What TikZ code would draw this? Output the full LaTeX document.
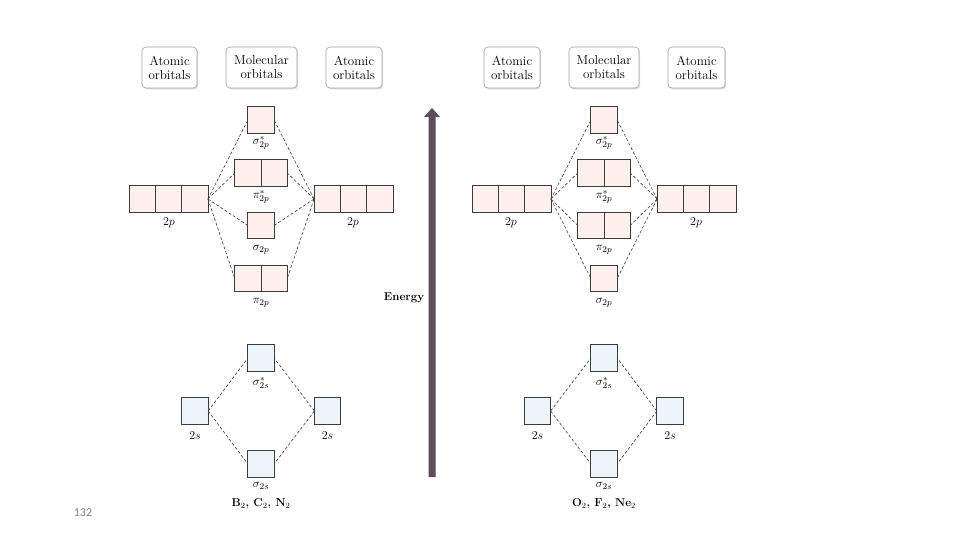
\documentclass[tikz,border=0pt]{standalone}
\usepackage{fontspec}
\newfontfamily\pagefont{Carlito}
\usetikzlibrary{shadows}
\definecolor{pinkfill}{RGB}{253,240,237}
\definecolor{bluefill}{RGB}{236,245,252}
\definecolor{boxline}{RGB}{60,60,60}
\definecolor{hdrline}{RGB}{160,160,160}
\definecolor{arrowcol}{RGB}{95,76,90}
\definecolor{dashcol}{RGB}{60,60,60}
\tikzset{
  cell/.style={draw=boxline, line width=0.8pt, minimum width=26.3pt, minimum height=26.3pt, inner sep=0pt, outer sep=0pt},
  pcell/.style={cell, fill=pinkfill},
  bcell/.style={cell, fill=bluefill},
  hdr/.style={draw=hdrline, line width=0.6pt, rounded corners=4pt, fill=white, minimum height=41pt, align=center, inner sep=0pt,
    font=\fontsize{13}{14}\selectfont, drop shadow={shadow xshift=1.2pt, shadow yshift=-1.5pt, opacity=0.25}},
  lbl/.style={font=\fontsize{13}{14}\selectfont, inner sep=0pt},
  ttl/.style={font=\fontsize{11.5}{12}\selectfont\bfseries, inner sep=0pt},
  mo/.style={dashcol, line width=0.6pt, dash pattern=on 3pt off 2pt},
}
\begin{document}
\begin{tikzpicture}[x=1pt,y=-1pt]
\useasboundingbox[fill=white] (0,0) rectangle (960,540);

% ---------- Left panel: B2, C2, N2 ----------
\node[hdr, minimum width=55pt] (hL1) at (169.5,67.5) {Atomic\\orbitals};
\node[hdr, minimum width=71pt] (hL2) at (261.5,67.5) {Molecular\\orbitals};
\node[hdr, minimum width=56pt] (hL3) at (354,67.5) {Atomic\\orbitals};

% left 2p
\node[pcell] (La1) at (142.2,199) {};
\node[pcell] (La2) at (168.5,199) {};
\node[pcell] (La3) at (194.8,199) {};
% right 2p
\node[pcell] (Lb1) at (327.2,199) {};
\node[pcell] (Lb2) at (353.5,199) {};
\node[pcell] (Lb3) at (379.8,199) {};
% MOs
\node[pcell] (LsS) at (261,120) {};
\node[pcell] (LpSa) at (247.9,173) {};
\node[pcell] (LpSb) at (274.1,173) {};
\node[pcell] (Ls) at (261,225.5) {};
\node[pcell] (Lpa) at (247.9,278.5) {};
\node[pcell] (Lpb) at (274.1,278.5) {};
% 2s
\node[bcell] (L2sA) at (195,411) {};
\node[bcell] (L2sB) at (327.5,411) {};
\node[bcell] (LsSs) at (261,358) {};
\node[bcell] (Lss) at (261,464) {};

% labels
\node[lbl] (lLsS) at (261,143) {$\sigma^{*}_{2p}$};
\node[lbl] (lLpS) at (261,197) {$\pi^{*}_{2p}$};
\node[lbl] (lLs) at (261,250) {$\sigma_{2p}$};
\node[lbl] (lLp) at (261,303) {$\pi_{2p}$};
\node[lbl] (lLa) at (169,223) {$2p$};
\node[lbl] (lLb) at (353,223) {$2p$};
\node[lbl] (lLsSs) at (261,383) {$\sigma^{*}_{2s}$};
\node[lbl] (lL2sA) at (195,436) {$2s$};
\node[lbl] (lL2sB) at (327.5,436) {$2s$};
\node[lbl] (lLss) at (261,486) {$\sigma_{2s}$};
\node[ttl] (tL) at (261,504) {B$_2$, C$_2$, N$_2$};

% connectors
\foreach \m in {LsS,LpSa,Ls,Lpa} \draw[mo] (La3.east) -- (\m.west);
\foreach \m in {LsS,LpSb,Ls,Lpb} \draw[mo] (Lb1.west) -- (\m.east);
\draw[mo] (L2sA.east) -- (LsSs.west);
\draw[mo] (L2sA.east) -- (Lss.west);
\draw[mo] (L2sB.west) -- (LsSs.east);
\draw[mo] (L2sB.west) -- (Lss.east);

% ---------- Energy arrow ----------
\fill[arrowcol] (428.5,477) -- (435.5,477) -- (435.5,117) -- (440,117) -- (432,108) -- (424,117) -- (428.5,117) -- cycle;
\node[ttl] (energy) at (404,298) {Energy};

% ---------- Right panel: O2, F2, Ne2 ----------
\node[hdr, minimum width=56pt] (hR1) at (512,67.5) {Atomic\\orbitals};
\node[hdr, minimum width=70pt] (hR2) at (604,67.5) {Molecular\\orbitals};
\node[hdr, minimum width=57pt] (hR3) at (696.5,67.5) {Atomic\\orbitals};

\node[pcell] (Ra1) at (485.2,199) {};
\node[pcell] (Ra2) at (511.5,199) {};
\node[pcell] (Ra3) at (537.8,199) {};
\node[pcell] (Rb1) at (670.2,199) {};
\node[pcell] (Rb2) at (696.5,199) {};
\node[pcell] (Rb3) at (722.8,199) {};
\node[pcell] (RsS) at (604,120) {};
\node[pcell] (RpSa) at (590.9,173) {};
\node[pcell] (RpSb) at (617.1,173) {};
\node[pcell] (Rpa) at (590.9,225.5) {};
\node[pcell] (Rpb) at (617.1,225.5) {};
\node[pcell] (Rs) at (604,278.5) {};
\node[bcell] (R2sA) at (537.5,411) {};
\node[bcell] (R2sB) at (670,411) {};
\node[bcell] (RsSs) at (604,358) {};
\node[bcell] (Rss) at (604,464) {};

\node[lbl] (lRsS) at (604,143) {$\sigma^{*}_{2p}$};
\node[lbl] (lRpS) at (604,197) {$\pi^{*}_{2p}$};
\node[lbl] (lRp) at (604,250) {$\pi_{2p}$};
\node[lbl] (lRs) at (604,303) {$\sigma_{2p}$};
\node[lbl] (lRa) at (511,223) {$2p$};
\node[lbl] (lRb) at (696,223) {$2p$};
\node[lbl] (lRsSs) at (604,383) {$\sigma^{*}_{2s}$};
\node[lbl] (lR2sA) at (537.5,436) {$2s$};
\node[lbl] (lR2sB) at (670,436) {$2s$};
\node[lbl] (lRss) at (604,486) {$\sigma_{2s}$};
\node[ttl] (tR) at (604,504) {O$_2$, F$_2$, Ne$_2$};

\foreach \m in {RsS,RpSa,Rpa,Rs} \draw[mo] (Ra3.east) -- (\m.west);
\foreach \m in {RsS,RpSb,Rpb,Rs} \draw[mo] (Rb1.west) -- (\m.east);
\draw[mo] (R2sA.east) -- (RsSs.west);
\draw[mo] (R2sA.east) -- (Rss.west);
\draw[mo] (R2sB.west) -- (RsSs.east);
\draw[mo] (R2sB.west) -- (Rss.east);

% page number
\node[font=\pagefont\fontsize{12}{13}\selectfont, text=gray, inner sep=0pt] (pg) at (83,513) {132};
\end{tikzpicture}
\end{document}
